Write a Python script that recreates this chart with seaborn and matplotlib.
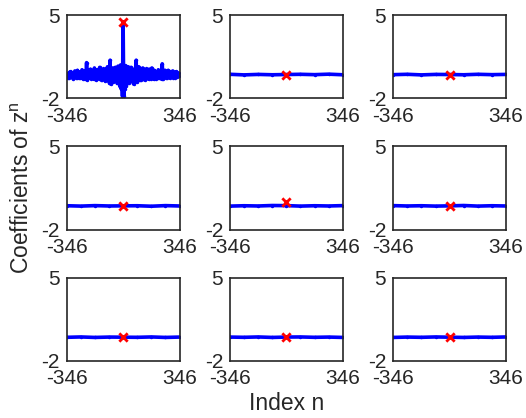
import numpy as np
import pandas as pd
import matplotlib
matplotlib.use("Agg")
import matplotlib.pyplot as plt
import seaborn as sns

# Coefficients of z^n for each of the nine expansions
n_main = np.arange(-344, 345, 4)
coef_main = [
    0.05, -0.25, 0.10, -0.30, 0.20, -0.15, 0.25, -0.20, 0.05, -0.35,
    0.15, -0.10, 0.30, -0.25, 0.10, -0.30, 0.35, -0.05, -0.25, 0.20,
    -0.30, 0.15, -0.10, 0.40, -0.35, 0.05, 0.25, -0.40, 0.30, -0.20,
    1.00, -0.45, 0.35, -0.30, 0.20, -0.10, 0.45, -0.35, 0.15, -0.25,
    0.30, -0.40, 0.55, -0.20, 0.10, -0.45, 0.40, -0.15, 0.25, -0.35,
    0.60, -0.30, 0.15, -0.50, 0.35, -0.10, 0.50, -0.40, 0.20, -0.55,
    0.45, -0.25, 0.65, -0.50, 0.30, -0.70, 1.20, -0.80, 0.40, -0.45,
    0.55, -0.65, 0.35, -0.30, 0.60, -0.55, 0.25, -0.75, 0.70, -0.60,
    0.50, -1.00, 0.80, -1.20, 0.40, -1.80,
    4.44,
    -1.80, 0.45, -1.20, 0.75, -0.95, 0.55,
    -0.60, 0.65, -0.70, 0.30, -0.55, 0.60, -0.35, 0.40, -0.50, -0.80,
    0.45, -0.40, 0.35, 1.20, -0.65, 0.50, -0.30, 0.65, -0.45, 0.30,
    -0.50, 0.45, -0.20, 0.55, -0.35, 0.15, -0.45, 0.35, -0.25, 0.50,
    -0.30, 0.20, -0.40, 0.45, -0.15, 0.30, -0.35, 0.55, -0.20, 0.10,
    -0.40, 0.35, -0.10, 0.25, -0.35, 0.15, -0.25, 0.40, -0.30, 0.20,
    -0.15, 0.30, -0.40, 0.90, -0.35, 0.25, -0.20, 0.35, -0.10, -0.30,
    0.20, -0.25, 0.35, -0.15, 0.10, -0.30, 0.25, -0.05, -0.20, 0.30,
    -0.25, 0.15, -0.30, 0.20, -0.10, 0.25, -0.20, 0.05, -0.15, 0.10,
]

n_flat = np.linspace(-346, 346, 9)
coef_flat = [
    [0.02, -0.03, 0.01, -0.02, 0.00, 0.02, -0.01, 0.03, -0.02],
    [-0.01, 0.02, -0.03, 0.01, 0.00, -0.02, 0.02, -0.01, 0.01],
    [0.01, -0.02, 0.02, -0.01, 0.00, 0.01, -0.03, 0.02, -0.01],
    [-0.02, 0.01, -0.01, 0.03, 0.02, -0.02, 0.01, -0.01, 0.02],
    [0.02, -0.01, 0.01, -0.02, 0.00, 0.03, -0.02, 0.01, -0.01],
    [-0.01, 0.02, -0.02, 0.01, 0.00, -0.01, 0.02, -0.02, 0.01],
    [0.01, -0.01, 0.02, -0.02, 0.01, 0.02, -0.01, 0.01, -0.02],
    [-0.02, 0.01, -0.01, 0.02, 0.00, -0.02, 0.01, -0.01, 0.02],
]

# Value at n = 0 in each panel (highlighted)
center_vals = [4.44, 0.00, 0.00, 0.00, 0.30, 0.00, 0.00, 0.05, 0.05]

x_ticks = [-346, 346]
y_ticks = [-2, 5]

sns.set_style("white")
plt.rcParams["font.family"] = ["Liberation Sans", "DejaVu Sans"]
plt.rcParams["mathtext.fontset"] = "custom"
plt.rcParams["mathtext.rm"] = "Liberation Sans"
plt.rcParams["mathtext.it"] = "Liberation Sans"
TXT = "#262626"
FS_TICK = 15
FS_LAB = 16.5

fig, axes = plt.subplots(3, 3, figsize=(5.26, 4.18), dpi=100)
fig.subplots_adjust(left=0.1268, right=0.962, top=0.964, bottom=0.1364,
                    wspace=0.447, hspace=0.577)

series = [(n_main, coef_main)] + [(n_flat, c) for c in coef_flat]

for i, ax in enumerate(axes.flat):
    xs, ys = series[i]
    df = pd.DataFrame({"n": xs, "c": ys})
    sns.lineplot(data=df, x="n", y="c", ax=ax, color="blue", linewidth=2.6,
                 marker="o", markersize=2.5, markeredgewidth=0, estimator=None)
    dc = pd.DataFrame({"n": [0], "c": [center_vals[i]]})
    sns.scatterplot(data=dc, x="n", y="c", ax=ax, color="red", marker="x",
                    s=36, linewidth=2, zorder=5)
    ax.set_xlim(-346, 346)
    ax.set_ylim(-2, 5)
    ax.set_xticks(x_ticks)
    ax.set_yticks(y_ticks)
    ax.set_xticklabels([str(v) for v in x_ticks], fontsize=FS_TICK, color=TXT)
    ax.set_yticklabels([str(v) for v in y_ticks], fontsize=FS_TICK, color=TXT)
    ax.tick_params(axis="x", length=0, pad=6)
    ax.tick_params(axis="y", length=0, pad=5)
    ax.set_xlabel("")
    ax.set_ylabel("")
    for sp in ax.spines.values():
        sp.set_visible(True)
        sp.set_color(TXT)
        sp.set_linewidth(1.2)

axes[1, 0].set_ylabel("Coefficients of z$^{\\mathrm{n}}$", fontsize=FS_LAB,
                      color=TXT, labelpad=5)
axes[2, 1].set_xlabel("Index n", fontsize=FS_LAB, color=TXT, labelpad=3)

fig.savefig("out.png", dpi=100)
